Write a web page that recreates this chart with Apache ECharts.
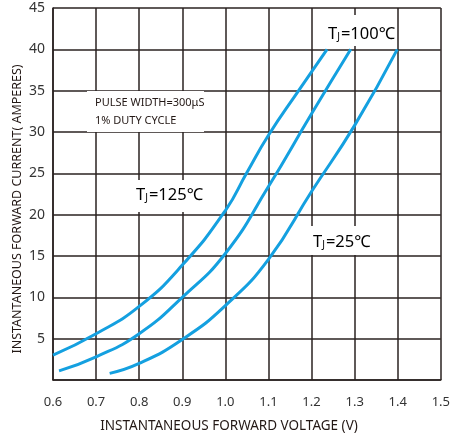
<!DOCTYPE html>
<html><head><meta charset="utf-8">
<script src="https://cdn.jsdelivr.net/npm/echarts@6/dist/echarts.min.js"></script>
<style>html,body{margin:0;padding:0;background:#fff}#c{width:453px;height:439px}</style>
</head><body><div id="c"></div>
<script>
// Instantaneous forward voltage (V) / current (A) points
const tj125V = [0.60, 0.70, 0.80, 0.90, 1.00, 1.05, 1.10, 1.17, 1.236];
const tj125I = [3.0, 5.6, 8.9, 13.9, 20.5, 25.1, 29.6, 35.0, 40.0];
const tj100V = [0.614, 0.70, 0.80, 0.90, 1.00, 1.10, 1.20, 1.291];
const tj100I = [1.1, 2.8, 5.6, 10.0, 15.3, 23.4, 32.2, 40.0];
const tj25V = [0.7315, 0.80, 0.90, 1.00, 1.10, 1.20, 1.30, 1.399];
const tj25I = [0.8, 2.0, 4.9, 9.0, 14.6, 22.8, 30.8, 40.0];
const xTicks = [0.6, 0.7, 0.8, 0.9, 1.0, 1.1, 1.2, 1.3, 1.4, 1.5];
const yTicks = [5, 10, 15, 20, 25, 30, 35, 40, 45];

const pairs = (xs, ys) => xs.map((x, i) => [x, ys[i]]);
const FONT = 'Noto Sans';
const gridColor = '#2a2220';
const blue = '#14a0e0';

const chart = echarts.init(document.getElementById('c'));
const lineStyle = {color: blue, width: 3};
const tjRich = {
  a: {fontSize: 16.5, fontFamily: FONT, color: '#231815'},
  b: {fontSize: 10, fontFamily: FONT, color: '#231815', padding: [6, 1, 0, 0]}
};
function tjText(x, y, val) {
  return {
    type: 'text', x: x, y: y, z: 10,
    style: {
      text: '{a|T}{b|J}{a|=' + val + '℃}', rich: tjRich,
      verticalAlign: 'middle', align: 'left'
    }
  };
}
function whiteBox(x, y, w, h) {
  return {type: 'rect', z: 5, shape: {x: x, y: y, width: w, height: h}, style: {fill: '#fff'}};
}
chart.setOption({
  animation: false,
  grid: {left: 53, right: 12, top: 8, bottom: 59},
  xAxis: {
    type: 'value', min: 0.6, max: 1.5, interval: 0.1,
    axisLine: {lineStyle: {color: gridColor, width: 1.5}},
    axisTick: {show: false},
    splitLine: {lineStyle: {color: gridColor, width: 1.5}},
    axisLabel: {
      margin: 16, fontSize: 13, fontFamily: FONT, color: '#333',
      formatter: v => { const t = xTicks.find(k => Math.abs(k - v) < 1e-6); return t === undefined ? '' : t.toFixed(1); }
    }
  },
  yAxis: {
    type: 'value', min: 0, max: 45, interval: 5,
    axisLine: {show: true, lineStyle: {color: gridColor, width: 1.5}},
    axisTick: {show: false},
    splitLine: {lineStyle: {color: gridColor, width: 1.5}},
    axisLabel: {
      margin: 8, fontSize: 14, fontFamily: FONT, color: '#333',
      formatter: v => yTicks.includes(Math.round(v)) ? String(Math.round(v)) : ''
    }
  },
  graphic: [
    whiteBox(87, 91, 117, 41),
    {type: 'text', x: 95, y: 103, z: 10, style: {text: 'PULSE WIDTH=300μS', fontSize: 11, fontFamily: FONT, fill: '#231815', verticalAlign: 'middle'}},
    {type: 'text', x: 95, y: 121, z: 10, style: {text: '1% DUTY CYCLE', fontSize: 11, fontFamily: FONT, fill: '#231815', verticalAlign: 'middle'}},
    whiteBox(128, 180, 92, 32),
    tjText(136, 195, '125'),
    whiteBox(318, 15, 76, 31),
    tjText(328, 34, '100'),
    whiteBox(305, 226, 80, 29),
    tjText(313, 242, '25'),
    {type: 'text', x: 17, y: 209, rotation: Math.PI / 2, z: 10,
     style: {text: 'INSTANTANEOUS FORWARD CURRENT( AMPERES)', fontSize: 12.5, fontFamily: FONT, fill: '#231815', align: 'center', verticalAlign: 'middle'}},
    {type: 'text', x: 229, y: 426, z: 10,
     style: {text: 'INSTANTANEOUS FORWARD VOLTAGE (V)', fontSize: 13.5, fontFamily: FONT, fill: '#231815', align: 'center', verticalAlign: 'middle'}}
  ],
  series: [
    {type: 'line', data: pairs(tj125V, tj125I), smooth: 0.5, showSymbol: false, lineStyle: lineStyle, z: 20},
    {type: 'line', data: pairs(tj100V, tj100I), smooth: 0.5, showSymbol: false, lineStyle: lineStyle, z: 20},
    {type: 'line', data: pairs(tj25V, tj25I), smooth: 0.5, showSymbol: false, lineStyle: lineStyle, z: 20}
  ]
});
</script></body></html>
